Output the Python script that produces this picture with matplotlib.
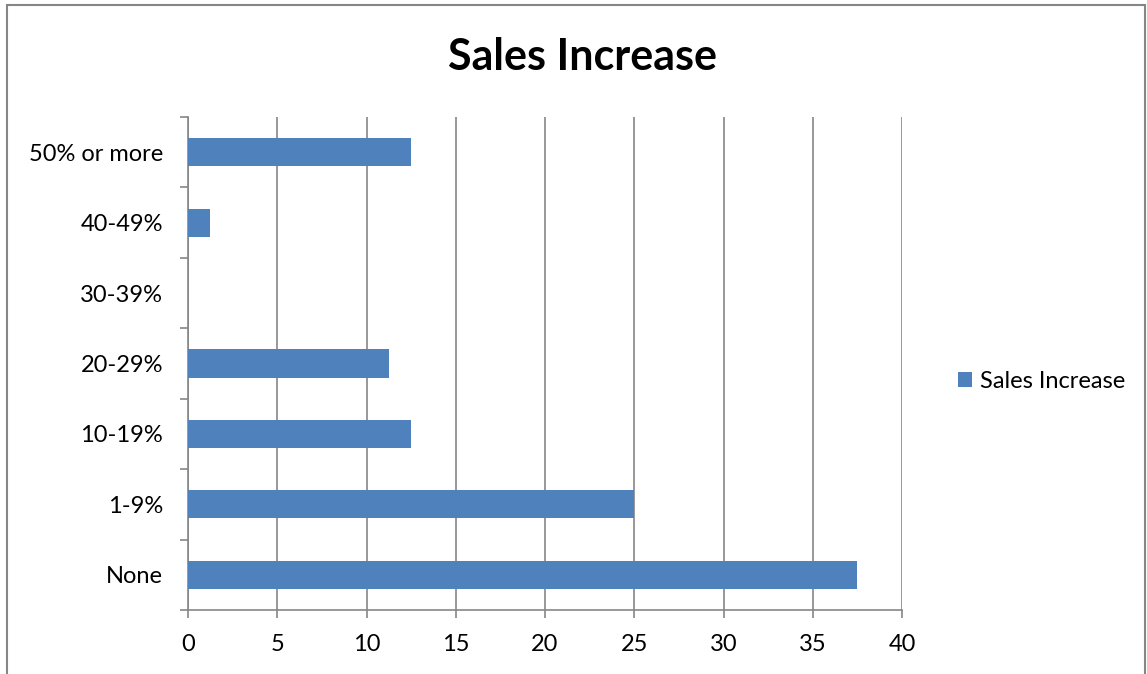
import matplotlib.pyplot as plt
from matplotlib.patches import Rectangle
import numpy as np

categories = ["None", "1-9%", "10-19%", "20-29%", "30-39%", "40-49%", "50% or more"]
values = [37.5, 25, 12.5, 11.25, 0, 1.25, 12.5]
xticks = [0, 5, 10, 15, 20, 25, 30, 35, 40]

BAR_COLOR = "#4F81BD"
GRID_COLOR = "#868686"

plt.rcParams['font.family'] = ['Lato', 'DejaVu Sans']

fig = plt.figure(figsize=(11.47, 6.74), dpi=100)
ax = fig.add_axes([188 / 1147, 1 - 610 / 674, (902 - 188) / 1147, (610 - 117) / 674])

# chart border
fig.patches.append(Rectangle((7 / 1147, -0.1), (1145 - 7) / 1147, 1 - 5 / 674 + 0.1,
                             transform=fig.transFigure, fill=False,
                             edgecolor=GRID_COLOR, linewidth=1.5))

y = np.arange(len(categories))
ax.barh(y, values, height=0.4, color=BAR_COLOR, label="Sales Increase", zorder=3)

ax.set_xlim(0, 40)
ax.set_ylim(-0.5, len(categories) - 0.5)
ax.set_xticks(xticks)
ax.set_xticklabels([str(t) for t in xticks])
ax.xaxis.grid(True, color=GRID_COLOR, linewidth=1.2, zorder=0)

# category labels centered, ticks at boundaries
ax.set_yticks(np.arange(-0.5, len(categories), 1.0))
ax.set_yticklabels([])
ax.set_yticks(y, minor=True)
ax.set_yticklabels(categories, minor=True)
ax.tick_params(axis='y', which='minor', length=0, pad=18)
ax.tick_params(axis='y', which='major', length=6, color=GRID_COLOR, width=1.2)
ax.tick_params(axis='x', length=6, color=GRID_COLOR, width=1.2, pad=11)
ax.tick_params(which='both', labelsize=17)

for side in ["top", "right"]:
    ax.spines[side].set_visible(False)
for side in ["left", "bottom"]:
    ax.spines[side].set_color(GRID_COLOR)
    ax.spines[side].set_linewidth(1.2)

fig.text(582 / 1147, 1 - 57 / 674, "Sales Increase", ha="center", va="center",
         fontsize=31, fontweight="bold")

fig.legend(loc="center left", bbox_to_anchor=(937 / 1147, 1 - 381 / 674),
           frameon=False, fontsize=17, handlelength=0.6, handleheight=0.6,
           handletextpad=0.3)

fig.savefig("out.png", dpi=100)
